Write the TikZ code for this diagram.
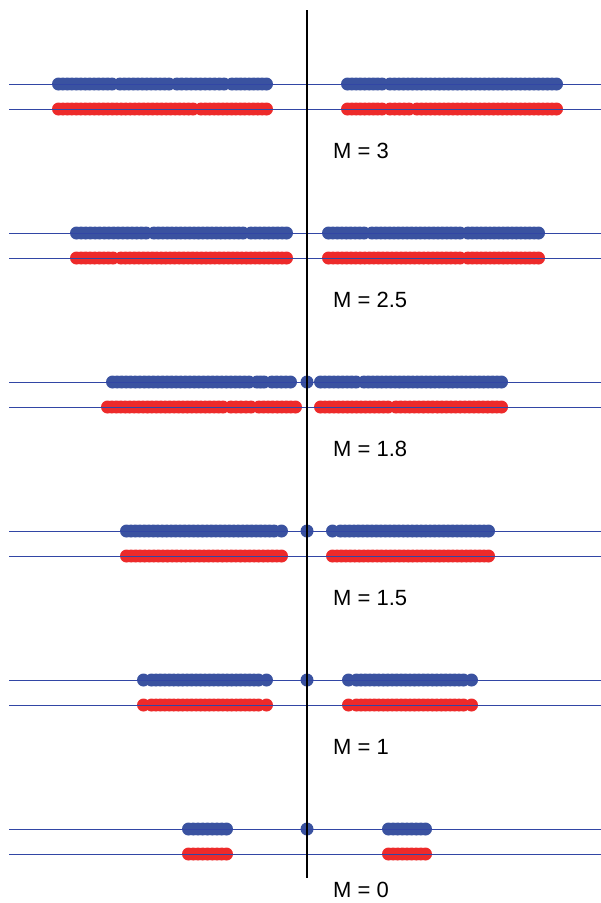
\documentclass[tikz,border=0pt]{standalone}
\usepackage{fontspec}
\setmainfont{Liberation Sans}
\definecolor{dotblue}{RGB}{58,82,160}
\definecolor{dotred}{RGB}{237,42,42}
\definecolor{axisblue}{RGB}{50,70,165}
\newcommand\dotrad{6.5}
\newcommand\dotband[4]{%
  \pgfmathsetmacro\bandlen{#3-#2-2*\dotrad}%
  \pgfmathtruncatemacro\bandn{max(1,round(\bandlen/4.5))}%
  \foreach \i in {0,...,\bandn}{%
    \pgfmathsetmacro\xx{#2+\dotrad+\i*\bandlen/\bandn}%
    \fill[#4] (\xx,#1) circle (\dotrad pt);
  }%
}
\newcommand\onedot[3]{\fill[#3] (#2,#1) circle (\dotrad pt);}
\begin{document}
\begin{tikzpicture}[x=1pt,y=-1pt,
  hline/.style={axisblue,line width=0.9pt},
  vline/.style={black,line width=1.4pt},
  lab/.style={anchor=base west,inner sep=0pt,font=\fontsize{22}{26}\selectfont}]
\useasboundingbox (0,0) rectangle (601,903);
% M = 3
\dotband{84}{52}{118.5}{dotblue}\dotband{84}{113.5}{175.5}{dotblue}
\dotband{84}{170.5}{230.5}{dotblue}\dotband{84}{225.5}{273}{dotblue}
\dotband{84}{341}{388.5}{dotblue}\dotband{84}{383.5}{563}{dotblue}
\dotband{109}{52}{199.5}{dotred}\dotband{109}{194.5}{273}{dotred}
\dotband{109}{341}{388.5}{dotred}\dotband{109}{383.5}{415.5}{dotred}\dotband{109}{410.5}{563}{dotred}
% M = 2.5
\dotband{233}{70}{152.5}{dotblue}\dotband{233}{147.5}{249.5}{dotblue}\dotband{233}{244.5}{293}{dotblue}
\dotband{233}{322}{370.5}{dotblue}\dotband{233}{365.5}{466.5}{dotblue}\dotband{233}{461.5}{545}{dotblue}
\dotband{258}{70}{119.5}{dotred}\dotband{258}{114.5}{293}{dotred}
\dotband{258}{322}{466.5}{dotred}\dotband{258}{461.5}{545}{dotred}
% M = 1.8
\dotband{382}{106}{255.5}{dotblue}\dotband{382}{250.5}{270.5}{dotblue}\dotband{382}{265.5}{297}{dotblue}
\onedot{382}{307}{dotblue}
\dotband{382}{314}{362.5}{dotblue}\dotband{382}{357.5}{508}{dotblue}
\dotband{407}{101}{229.5}{dotred}\dotband{407}{224.5}{257.5}{dotred}\dotband{407}{252.5}{302}{dotred}
\dotband{407}{314}{394.5}{dotred}\dotband{407}{389.5}{508}{dotred}
% M = 1.5
\dotband{531}{120}{280.5}{dotblue}\onedot{531}{281.5}{dotblue}
\onedot{531}{307}{dotblue}
\onedot{531}{332.5}{dotblue}\dotband{531}{334}{495}{dotblue}
\dotband{556}{120}{288}{dotred}
\dotband{556}{326}{495}{dotred}
% M = 1
\onedot{680}{143.5}{dotblue}\dotband{680}{145}{265}{dotblue}\onedot{680}{266.5}{dotblue}
\onedot{680}{307}{dotblue}
\onedot{680}{348.5}{dotblue}\dotband{680}{350}{470}{dotblue}\onedot{680}{471.5}{dotblue}
\onedot{705}{143.5}{dotred}\dotband{705}{145}{265}{dotred}\onedot{705}{266.5}{dotred}
\onedot{705}{348.5}{dotred}\dotband{705}{350}{470}{dotred}\onedot{705}{471.5}{dotred}
% M = 0
\dotband{829}{182}{233}{dotblue}
\onedot{829}{307}{dotblue}
\dotband{829}{382}{432}{dotblue}
\dotband{854}{182}{233}{dotred}
\dotband{854}{382}{432}{dotred}
% horizontal lines
\foreach \yy in {84,109,233,258,382,407,531,556,680,705,829,854}{
  \coordinate (hl\yy) at (9,\yy);
  \coordinate (hr\yy) at (601,\yy);
  \draw[hline] (hl\yy) -- (hr\yy);
}
% vertical axis
\coordinate (vtop) at (307,10);
\coordinate (vbot) at (307,878);
\draw[vline] (vtop) -- (vbot);
% labels
\node[lab] (m3) at (333,158) {M = 3};
\node[lab] (m25) at (333,307) {M = 2.5};
\node[lab] (m18) at (333,456) {M = 1.8};
\node[lab] (m15) at (333,605) {M = 1.5};
\node[lab] (m1) at (333,754) {M = 1};
\node[lab] (m0) at (333,897) {M = 0};
\end{tikzpicture}
\end{document}
